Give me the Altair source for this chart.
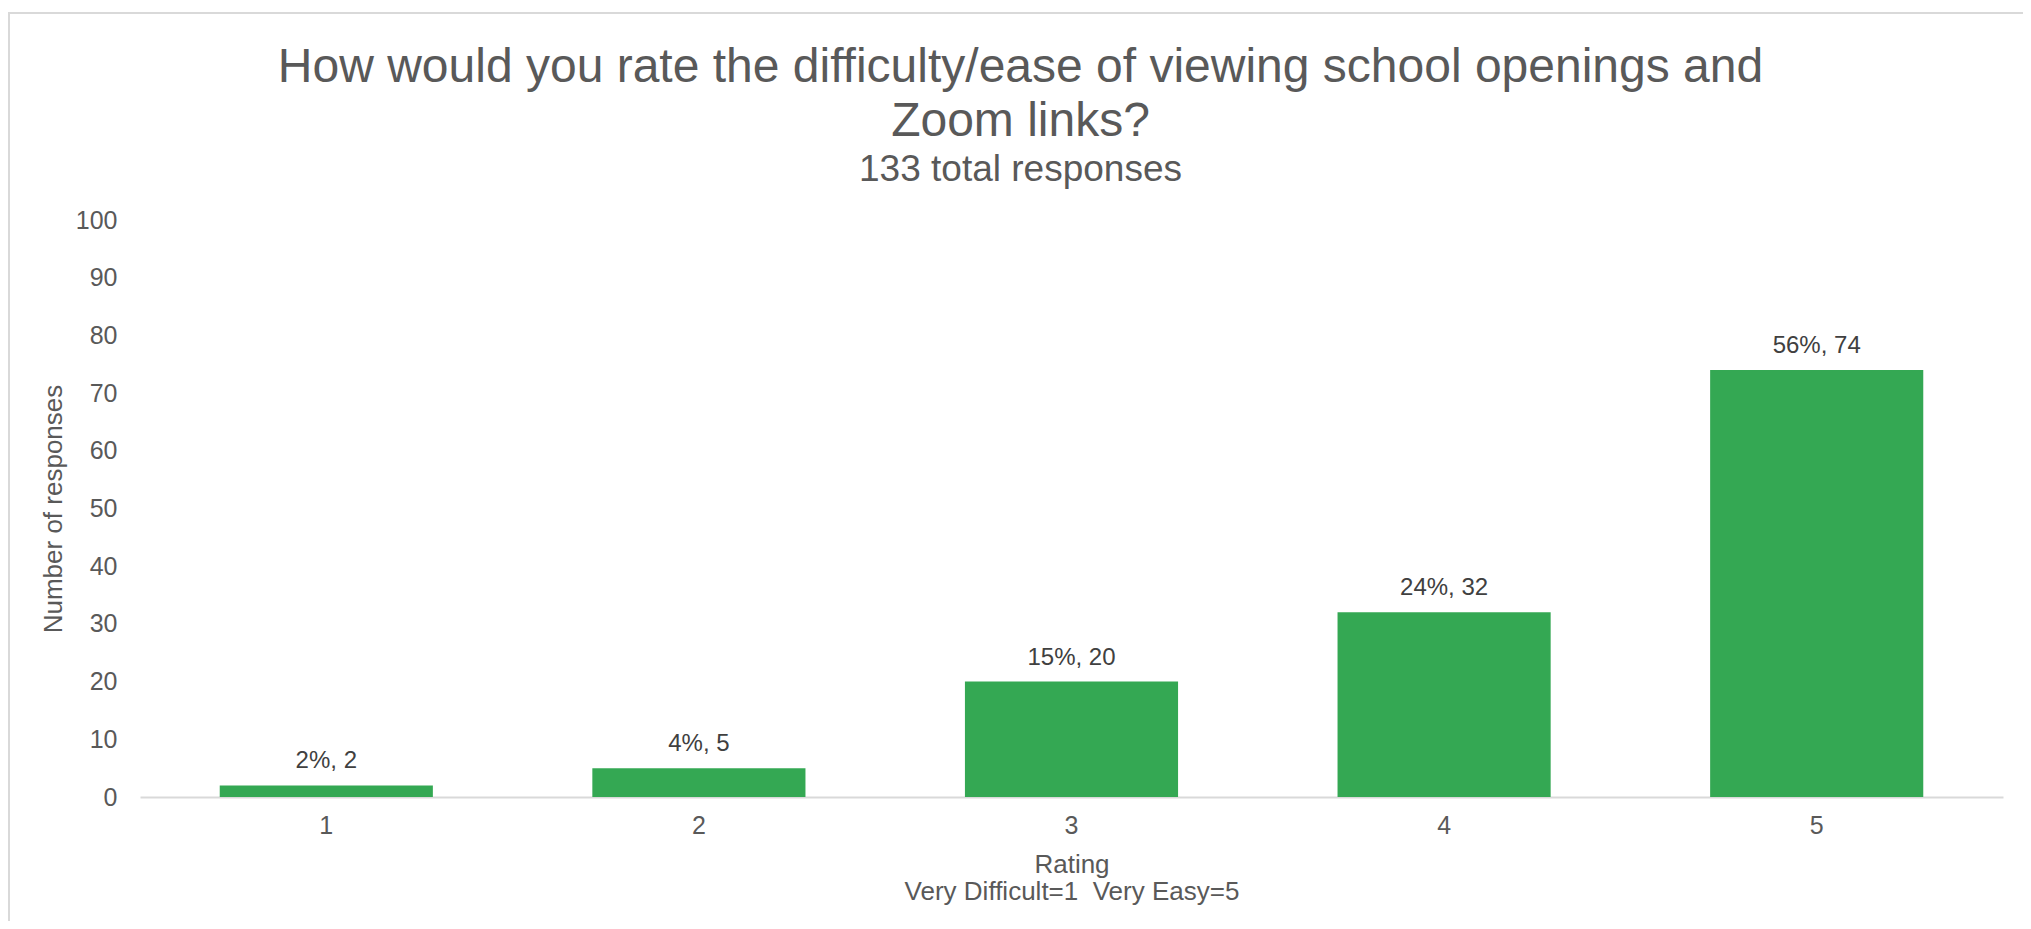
import altair as alt
import pandas as pd

# ---- data ----
ratings = ["1", "2", "3", "4", "5"]
counts = [2, 5, 20, 32, 74]
percents = [2, 4, 15, 24, 56]
y_ticks = [0, 10, 20, 30, 40, 50, 60, 70, 80, 90, 100]

title_lines = ["How would you rate the difficulty/ease of viewing school openings and", "Zoom links?"]
subtitle_text = "133 total responses"
x_title = ["Rating", "Very Difficult=1 \u00a0Very Easy=5"]
y_title = "Number of responses"

df = pd.DataFrame({"Rating": ratings, "Count": counts, "Pct": percents})
df["Label"] = [f"{p}%, {c}" for p, c in zip(percents, counts)]

W, H = 1863, 577
GREEN = "#34A853"
GRAY = "#595959"
FONT = "Liberation Sans"

x_enc = alt.X(
    "Rating:N",
    sort=ratings,
    scale=alt.Scale(paddingInner=0.428, paddingOuter=0.214),
    axis=alt.Axis(
        title=x_title,
        labelAngle=0,
        ticks=False,
        tickSize=0,
        domain=True,
        domainColor="#d9d9d9",
        domainWidth=2,
        labelFontSize=25,
        labelColor=GRAY,
        labelPadding=16,
        titleFontSize=26,
        titleLineHeight=27,
        titlePadding=13,
        titleColor=GRAY,
        titleFontWeight="normal",
        grid=False,
    ),
)
y_enc = alt.Y(
    "Count:Q",
    scale=alt.Scale(domain=[0, 100]),
    axis=alt.Axis(
        values=y_ticks,
        title=y_title,
        grid=False,
        domain=False,
        ticks=False,
        tickSize=0,
        labelFontSize=25,
        labelColor=GRAY,
        labelPadding=23,
        titleFontSize=26,
        titleColor=GRAY,
        titleFontWeight="normal",
        titlePadding=9,
    ),
)

frame = alt.Chart(pd.DataFrame({"k": [0]})).mark_rect(
    fillOpacity=0, stroke="#d9d9d9", strokeWidth=2
).encode(
    x=alt.value(-131), x2=alt.value(3000), y=alt.value(-207), y2=alt.value(3000)
)

bars = alt.Chart(df).mark_bar(color=GREEN).encode(x=x_enc, y=y_enc)

labels = alt.Chart(df).mark_text(
    dy=-17, baseline="alphabetic", fontSize=24, color="#404040", font=FONT
).encode(x=alt.X("Rating:N", sort=ratings), y="Count:Q", text="Label:N")

chart = alt.layer(frame, bars, labels).properties(
    width=W,
    height=H,
    autosize=alt.AutoSizeParams(type="none"),
    padding={"left": 132, "top": 212, "right": 20, "bottom": 124},
    title=alt.TitleParams(
        text=title_lines,
        subtitle=subtitle_text,
        fontSize=48,
        lineHeight=54,
        color=GRAY,
        font=FONT,
        fontWeight="normal",
        subtitleFontSize=37,
        subtitleColor=GRAY,
        subtitleFont=FONT,
        subtitlePadding=6,
        anchor="middle",
        offset=0,
        dx=-51,
        dy=176,
    ),
).configure(font=FONT).configure_view(strokeWidth=0)

chart.save("out.html", embed_options={"renderer": "svg", "actions": False})
